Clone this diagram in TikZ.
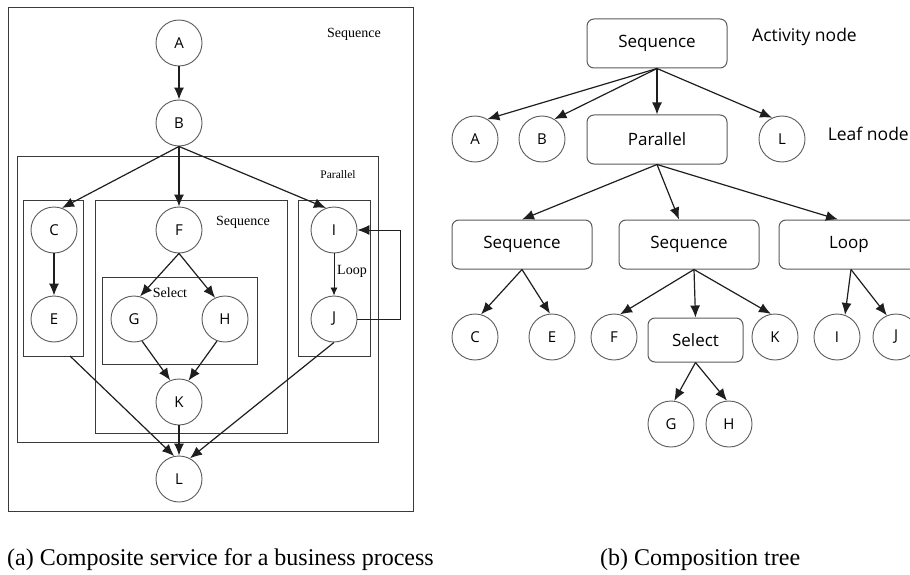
\documentclass[tikz,border=0pt]{standalone}
\usepackage{fontspec}
\setmainfont{Liberation Serif}
\newfontfamily\sansf{Open Sans}
\usetikzlibrary{arrows.meta,calc}
\definecolor{edgegray}{HTML}{1E1E1E}
\definecolor{rimgray}{HTML}{5A5A5A}
\definecolor{framegray}{HTML}{3A3A3A}
\tikzset{
  leaf/.style={circle, draw=rimgray, line width=0.9pt, minimum size=46pt, inner sep=0pt,
    font=\sansf\fontsize{15}{15}\selectfont},
  frame/.style={draw=framegray, line width=0.9pt, inner sep=0pt},
  lbl/.style={inner sep=0pt, font=\fontsize{14}{14}\selectfont},
  actbox/.style={draw=rimgray, line width=1pt, rounded corners=7pt, inner sep=0pt,
    minimum width=140pt, minimum height=49pt, font=\sansf\fontsize{17}{17}\selectfont},
  arr/.style={draw=edgegray, line width=1.2pt, -{Latex[length=12pt,width=10pt]}},
  thinarr/.style={draw=edgegray, line width=0.8pt, -{Latex[length=8pt,width=7pt]}},
  note/.style={inner sep=0pt, font=\sansf\fontsize{17.5}{17.5}\selectfont},
  caption/.style={inner sep=0pt, font=\fontsize{24}{24}\selectfont}
}
\begin{document}
\begin{tikzpicture}[x=1pt,y=-1pt]
\useasboundingbox (0,0) rectangle (910,575);

% ---------- (a) block structure ----------
\node[frame, minimum width=405pt, minimum height=504pt] (outer) at (210.5,259) {};
\node[lbl] at (354,34) {Sequence};
\node[frame, minimum width=361pt, minimum height=286pt] (par) at (197.5,299.5) {};
\node[lbl, font=\fontsize{11.5}{11.5}\selectfont] at (338,175) {Parallel};
\node[frame, minimum width=60pt, minimum height=156pt] (cebox) at (53,278) {};
\node[frame, minimum width=192pt, minimum height=233pt] (seqbox) at (191,316.5) {};
\node[lbl] at (243,222) {Sequence};
\node[frame, minimum width=155pt, minimum height=87pt] (selbox) at (179.5,320.5) {};
\node[lbl] at (170,293) {Select};
\node[frame, minimum width=72pt, minimum height=156pt] (ijbox) at (334,278) {};
\node[lbl] at (352,271) {Loop};

\node[leaf] (A) at (179,43) {A};
\node[leaf] (B) at (179,123) {B};
\node[leaf] (C) at (54,230) {C};
\node[leaf] (E) at (54,319) {E};
\node[leaf] (F) at (179,230) {F};
\node[leaf] (G) at (134,319) {G};
\node[leaf] (H) at (225,319) {H};
\node[leaf] (K) at (179,402) {K};
\node[leaf] (I) at (334,230) {I};
\node[leaf] (J) at (334,319) {J};
\node[leaf] (L) at (179,479) {L};
\coordinate (eout) at (70,356);

\draw[arr] (A) -- (B);
\draw[arr] (B.south) -- (C.70);
\draw[arr] (B.south) -- (F.north);
\draw[arr] (B.south) -- (I.110);
\draw[arr] (C) -- (E);
\draw[arr] (F.south) -- (G.75);
\draw[arr] (F.south) -- (H.115);
\draw[thinarr] (I) -- (J);
\draw[arr] (G.-70) -- (K.112);
\draw[arr] (H.-110) -- (K.66);
\draw[arr] (K) -- (L);
\draw[arr] (eout) -- (L.102);
\draw[arr] (J.south) -- (L.62);
\draw[arr, line width=0.9pt] (J.east) -- ++(43,0) |- (I.east);

% ---------- (b) composition tree ----------
\node[actbox] (S0) at (657,43.5) {Sequence};
\node[note, anchor=west] at (752,37) {Activity node};
\node[note, anchor=east] at (909,134) {Leaf node};

\node[leaf] (tA) at (475,139) {A};
\node[leaf] (tB) at (542,139) {B};
\node[actbox] (P) at (657,139.5) {Parallel};
\node[leaf] (tL) at (782,139) {L};

\node[actbox] (S1) at (522,244.5) {Sequence};
\node[actbox] (S2) at (689,244.5) {Sequence};
\node[actbox] (Lp) at (849,244.5) {Loop};

\node[leaf] (tC) at (475,337) {C};
\node[leaf] (tE) at (552,337) {E};
\node[leaf] (tF) at (614,337) {F};
\node[actbox, minimum width=95pt, minimum height=44pt] (Sel) at (695.5,340) {Select};
\node[leaf] (tK) at (775,337) {K};
\node[leaf] (tI) at (837,337) {I};
\node[leaf] (tJ) at (896,337) {J};

\node[leaf] (tG) at (671,424) {G};
\node[leaf] (tH) at (729,424) {H};

\draw[arr] (S0.south) -- (tA.58);
\draw[arr] (S0.south) -- (tB.58);
\draw[arr] (S0.south) -- (P.north);
\draw[arr] (S0.south) -- (tL.115);

\draw[arr] (P.south) -- (S1.north);
\draw[arr] (P.south) -- ([xshift=-10pt]S2.north);
\draw[arr] (P.south) -- ([xshift=-11pt]Lp.north);

\draw[arr] (S1.south) -- (tC.75);
\draw[arr] (S1.south) -- (tE.95);
\draw[arr] ([xshift=5pt]S2.south) -- (tF.75);
\draw[arr] ([xshift=5pt]S2.south) -- (Sel.north);
\draw[arr] ([xshift=5pt]S2.south) -- (tK.100);
\draw[arr] ([xshift=2pt]Lp.south) -- (tI.70);
\draw[arr] ([xshift=2pt]Lp.south) -- (tJ.113);
\draw[arr] (Sel.south) -- (tG.82);
\draw[arr] (Sel.south) -- (tH.95);

% ---------- captions ----------
\node[caption, anchor=west] at (7,560) {(a) Composite service for a business process};
\node[caption, anchor=west] at (600,560) {(b) Composition tree};
\end{tikzpicture}
\end{document}
